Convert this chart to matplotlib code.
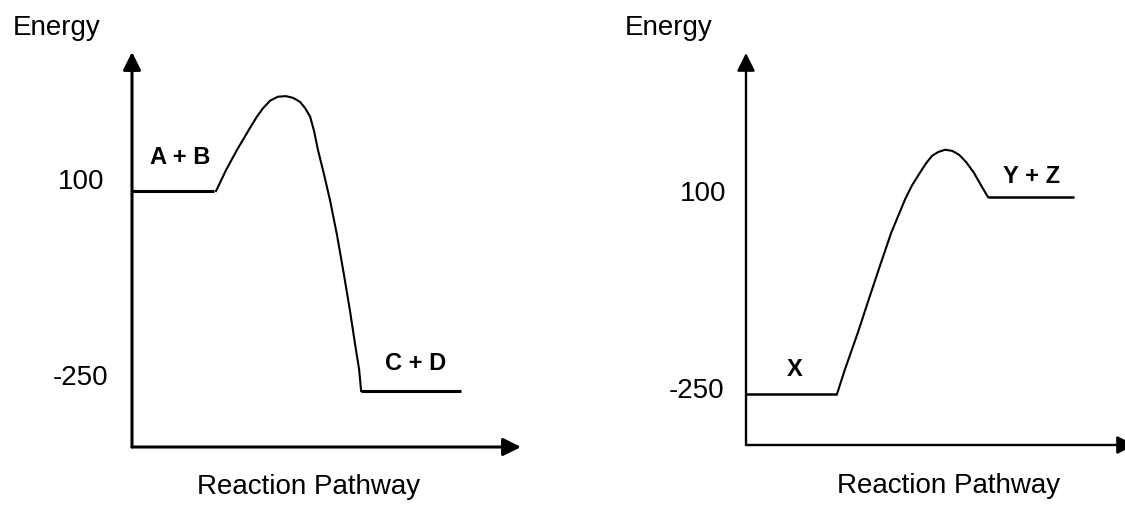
import matplotlib.pyplot as plt

plt.rcParams['font.family'] = ['Liberation Sans', 'DejaVu Sans']

# Общие подписи
y_title = 'Energy'
x_title = 'Reaction Pathway'
tick_values = [100, -250]
tick_labels = ['100', '-250']

# Левая диаграмма (экзотермическая реакция)
left_names = ['A + B', 'C + D']
left_levels_e = [100, -250]
left_levels_start = [0, 5.89]
left_levels_end = [2.11, 8.46]
left_names_x = [1.23, 7.28]
left_curve_x = [2.16, 2.42, 2.70, 3.03, 3.21, 3.37, 3.55, 3.75, 3.96, 4.14, 4.32, 4.45,
                4.58, 4.68, 4.78, 4.94, 5.09, 5.27, 5.45, 5.60, 5.73, 5.84, 5.89]
left_curve_e = [100, 137, 172, 210, 230, 245, 258, 265, 266, 263, 256, 245,
                230, 205, 172, 128, 84, 23, -47, -108, -166, -213, -250]

# Правая диаграмма (эндотермическая реакция)
right_names = ['X', 'Y + Z']
right_levels_e = [-250, 100]
right_levels_start = [0, 6.22]
right_levels_end = [2.34, 8.43]
right_names_x = [1.26, 7.33]
right_curve_x = [2.34, 2.54, 2.88, 3.16, 3.44, 3.73, 3.91, 4.09, 4.27, 4.47, 4.63,
                 4.78, 4.94, 5.12, 5.30, 5.48, 5.66, 5.86, 6.04, 6.22]
right_curve_e = [-250, -207, -140, -81, -23, 36, 66, 96, 121, 143, 160,
                 173, 180, 184, 182, 175, 162, 143, 121, 100]

fig = plt.figure(figsize=(11.25, 5.05), dpi=100)


def draw_panel(pos, ylim, names, levels_e, l_start, l_end, names_x, curve_x, curve_e,
               axis_lw, level_lw, name_dy, tick_off, title_off, xlabel_x, xlabel_dy):
    ax = fig.add_axes(pos)
    ax.set_xlim(0, 10)
    ax.set_ylim(*ylim)
    ax.axis('off')
    arrow = dict(arrowstyle='-|>,head_length=0.54,head_width=0.27', mutation_scale=20,
                 lw=axis_lw, color='black', shrinkA=0, shrinkB=0)
    # оси со стрелками
    ax.annotate('', xy=(0, ylim[1]), xytext=(0, ylim[0]), arrowprops=arrow, annotation_clip=False)
    ax.annotate('', xy=(10, ylim[0]), xytext=(0, ylim[0]), arrowprops=arrow, annotation_clip=False)
    # уровни энергии
    ax.hlines(levels_e, l_start, l_end, colors='black', lw=level_lw)
    ax.plot(curve_x, curve_e, color='black', lw=1.5, solid_joinstyle='round')
    for i in range(len(names)):
        ax.annotate(names[i], xy=(names_x[i], levels_e[i]), xytext=(0, name_dy[i]),
                    textcoords='offset points', ha='center', va='center',
                    fontsize=17, fontweight='bold')
    for i in range(len(tick_values)):
        ax.annotate(tick_labels[i], xy=(0, tick_values[i]), xytext=tick_off[i],
                    textcoords='offset points', ha='right', va='center', fontsize=20)
    ax.annotate(y_title, xy=(0, ylim[1]), xytext=title_off, textcoords='offset points',
                ha='center', va='center', fontsize=20, annotation_clip=False)
    ax.annotate(x_title, xy=(xlabel_x, ylim[0]), xytext=(0, xlabel_dy), textcoords='offset points',
                ha='center', va='center', fontsize=20, annotation_clip=False)
    return ax


draw_panel([132 / 1125, 58 / 505, 389 / 1125, 395 / 505], (-348, 343.25),
           left_names, left_levels_e, left_levels_start, left_levels_end, left_names_x,
           left_curve_x, left_curve_e, 2.2, 2.2, [23.8, 20],
           [(-20, 6.5), (-17.3, 9.4)], (-54, 17.3), 4.55, -28.8)

draw_panel([746 / 1125, 60 / 505, 389 / 1125, 392 / 505], (-340.6, 355.9),
           right_names, right_levels_e, right_levels_start, right_levels_end, right_names_x,
           right_curve_x, right_curve_e, 1.7, 1.8, [17.3, 15],
           [(-14.4, 2.2), (-15.8, 2.2)], (-56, 18), 5.22, -29.5)

plt.savefig('out.png', dpi=100)
